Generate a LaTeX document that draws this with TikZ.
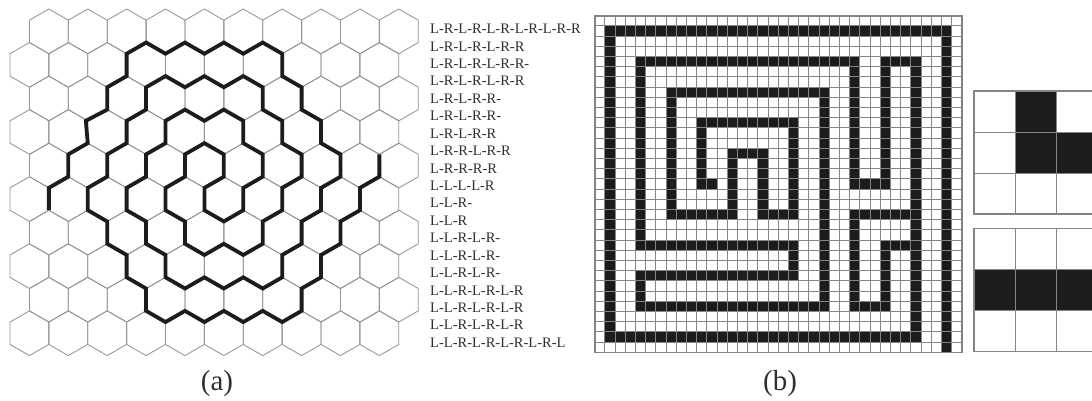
\documentclass[tikz,border=0pt]{standalone}
\usepackage{fontspec}
\setmainfont{Liberation Serif}
\definecolor{hexgrey}{HTML}{959595}
\definecolor{cellgrey}{HTML}{858585}
\definecolor{ink}{HTML}{1C1C1A}
\definecolor{labelink}{HTML}{303030}
\tikzset{
  hexcell/.style={draw=hexgrey,line width=0.85pt,line join=round},
  spiral/.style={draw=ink,line width=3.8pt,line join=miter},
  mazegrid/.style={draw=cellgrey,line width=1pt},
  mazeborder/.style={draw=cellgrey,line width=1.6pt},
  cellfill/.style={fill=ink,draw=none},
  codelabel/.style={anchor=base west,inner sep=0pt,text=labelink,font=\fontsize{14.5}{17}\selectfont},
  caption/.style={inner sep=0pt,text=labelink,font=\fontsize{29}{32}\selectfont}
}
\begin{document}
\begin{tikzpicture}[x=1pt,y=-1pt]
\useasboundingbox (0,0) rectangle (1092,400);
\clip (0,0) rectangle (1092,400);
\fill[white] (0,0) rectangle (1092,400);
% ---------- (a) hexagons
\begin{scope}[shift={(10,9)},x=19.44pt,y=-11.18pt]
  \foreach \r in {0,...,9}{
    \pgfmathtruncatemacro{\off}{mod(\r+1,2)}
    \pgfmathtruncatemacro{\t}{3*\r}
    \foreach \q in {0,...,9}{
      \pgfmathtruncatemacro{\ci}{1+\off+2*\q}
      \draw[hexcell] (\ci,\t) -- (\ci+1,\t+1) -- (\ci+1,\t+3) -- (\ci,\t+4) -- (\ci-1,\t+3) -- (\ci-1,\t+1) -- cycle;
    }
  }
  \draw[spiral] (2,18) -- (2,16) -- (3,15) -- (3,13) -- (4,12) -- (3.9,10) -- (5,9) -- (5,7) -- (6,6) -- (6,4)
   -- (7,3) -- (8,4) -- (9,3) -- (10,4) -- (11,3) -- (12,4) -- (13,3) -- (14,4) -- (14,6) -- (15,7) -- (15,9)
   -- (16,10) -- (16,12) -- (17,13) -- (17,15) -- (16,16) -- (16,18) -- (15,19) -- (15,21) -- (14,22) -- (14,24)
   -- (13,25) -- (12,24) -- (11,25) -- (10,24) -- (9,25) -- (8,24) -- (8,22) -- (7,21) -- (7,19) -- (6,18) -- (6,16)
   -- (7,15) -- (7,13) -- (8,12) -- (8,10) -- (9,9) -- (10,10) -- (11,9) -- (12,10) -- (12,12) -- (13,13) -- (13,15)
   -- (12,16) -- (12,18) -- (11,19) -- (10,18) -- (10,16) -- (11,15) -- (11,13) -- (10,12) -- (9,13) -- (9,15) -- (8,16)
   -- (8,18) -- (9,19) -- (9,21) -- (10,22) -- (11,21) -- (12,22) -- (13,21) -- (13,19) -- (14,18) -- (14,16) -- (15,15)
   -- (15,13) -- (14,12) -- (14,10) -- (13,9) -- (13,7) -- (12,6) -- (11,7) -- (10,6) -- (9,7) -- (8,6) -- (7,7) -- (7,9)
   -- (6,10) -- (6,12) -- (5,13) -- (5,15) -- (4,16) -- (4,18) -- (5,19) -- (5,21) -- (6,22) -- (6,24) -- (7,25) -- (7,27)
   -- (8,28) -- (9,27) -- (10,28) -- (11,27) -- (12,28) -- (13,27) -- (14,28) -- (15,27) -- (15,25) -- (16,24) -- (16,22)
   -- (17,21) -- (17,19) -- (18,18) -- (18,16) -- (19,15) -- (19,13);
\end{scope}
% ---------- codes
\foreach \txt [count=\k from 0] in {
  L-R-L-R-L-R-L-R-L-R-R, L-R-L-R-L-R-R, L-R-L-R-L-R-R-, L-R-L-R-L-R-R, L-R-L-R-R-, L-R-L-R-R-, L-R-L-R-R,
  L-R-R-L-R-R, L-R-R-R-R, L-L-L-L-R, L-L-R-, L-L-R, L-L-R-L-R-, L-L-R-L-R-, L-L-R-L-R-,
  L-L-R-L-R-L-R, L-L-R-L-R-L-R, L-L-R-L-R-L-R, L-L-R-L-R-L-R-L-R-L}{
  \node[codelabel] (code\k) at (430,33.6+17.43*\k) {\txt};
}
% ---------- (b) maze
\begin{scope}[shift={(594.7,15.7)},x=10.2pt,y=-10.2pt]
  \foreach \a/\b/\c/\d in {
    1/1/35/2, 34/1/35/33, 1/1/2/32, 1/31/32/32, 31/4/32/32, 28/4/32/5, 28/4/29/17, 25/16/29/17, 25/4/26/17,
    4/4/26/5, 4/4/5/23, 4/22/20/23, 19/22/20/26, 4/25/20/26, 4/25/5/29, 4/28/23/29, 22/7/23/29, 7/7/23/8,
    7/7/8/20, 7/19/14/20, 13/13/14/20, 13/13/17/14, 16/13/17/20, 16/19/20/20, 19/10/20/20, 10/10/20/11,
    10/10/11/17, 10/16/12/17, 25/19/32/20, 25/19/26/29, 25/28/29/29, 28/22/29/29, 28/22/32/23}{
    \fill[cellfill] (\a,\b) rectangle (\c,\d);
  }
  \foreach \i in {1,...,35}{\draw[mazegrid] (\i,0) -- (\i,33);}
  \foreach \j in {1,...,32}{\draw[mazegrid] (0,\j) -- (36,\j);}
  \draw[mazeborder] (0,0) rectangle (36,33);
\end{scope}
% ---------- (b) detail panels
\begin{scope}[shift={(974,91)},x=41pt,y=-41pt]
  \fill[cellfill] (1,0) rectangle (2,2);
  \fill[cellfill] (2,1) rectangle (3,2);
  \foreach \i in {1,2}{\draw[mazegrid] (\i,0) -- (\i,3); \draw[mazegrid] (0,\i) -- (3,\i);}
  \draw[mazeborder] (0,0) rectangle (3,3);
\end{scope}
\begin{scope}[shift={(974,228.5)},x=41pt,y=-41pt]
  \fill[cellfill] (0,1) rectangle (3,2);
  \foreach \i in {1,2}{\draw[mazegrid] (\i,0) -- (\i,3); \draw[mazegrid] (0,\i) -- (3,\i);}
  \draw[mazeborder] (0,0) rectangle (3,3);
\end{scope}
\node[caption] (capa) at (217,384) {(a)};
\node[caption] (capb) at (780,384) {(b)};
\end{tikzpicture}
\end{document}
